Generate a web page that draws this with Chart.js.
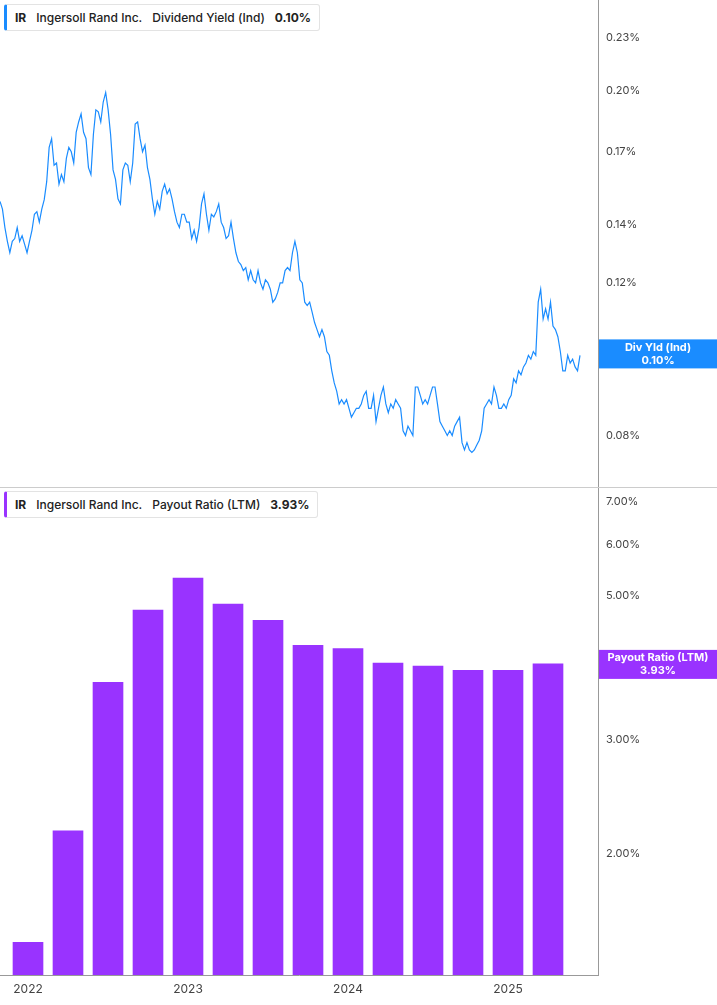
<!DOCTYPE html>
<html><head><meta charset="utf-8">
<script src="https://cdn.jsdelivr.net/npm/chart.js@4/dist/chart.umd.min.js"></script>
<style>
body{margin:0;background:#fff;font-family:Inter,"Noto Sans",sans-serif;}
#wrap{position:relative;width:717px;height:1005px;overflow:hidden;}
.c{position:absolute;left:0;}
.leg{position:absolute;left:4px;height:25px;border:1px solid #e3e3e3;border-left:3px solid;border-radius:3px;background:#fff;font-size:12px;line-height:25px;color:#222;padding:0 8px;white-space:nowrap;}
.leg b{font-weight:700;margin-right:10px;}
.leg span{margin-right:10px;font-weight:500}
</style></head><body>
<div id="wrap">
<div class="c" style="top:-10px;width:717px;height:508px"><canvas id="top"></canvas></div>
<div class="c" style="top:478px;width:717px;height:527px"><canvas id="bot"></canvas></div>
<div style="position:absolute;left:0;top:487px;width:717px;height:1px;background:#ccc"></div>
<div class="leg" style="top:4px;border-left-color:#1a8cff"><b>IR</b><span>Ingersoll Rand Inc.</span><span>Dividend Yield (Ind)</span><b style="margin-right:0">0.10%</b></div>
<div class="leg" style="top:491px;border-left-color:#9933ff"><b>IR</b><span>Ingersoll Rand Inc.</span><span>Payout Ratio (LTM)</span><b style="margin-right:0">3.93%</b></div>
</div>
<script>
const yieldStart = 2021.825, yieldEnd = 2025.45;
const dividendYield = [0.149,0.146,0.139,0.134,0.130,0.134,0.135,0.139,0.134,0.136,0.133,0.130,0.134,0.138,0.144,0.145,0.141,0.146,0.1497,0.157,0.172,0.176,0.164,0.165,0.156,0.160,0.157,0.167,0.172,0.170,0.165,0.179,0.184,0.188,0.179,0.176,0.163,0.160,0.178,0.190,0.189,0.184,0.194,0.199,0.190,0.178,0.162,0.158,0.150,0.148,0.162,0.165,0.164,0.157,0.165,0.183,0.184,0.176,0.170,0.173,0.163,0.158,0.150,0.144,0.149,0.146,0.153,0.156,0.152,0.154,0.150,0.145,0.141,0.139,0.144,0.144,0.141,0.141,0.135,0.138,0.134,0.139,0.148,0.152,0.144,0.138,0.144,0.143,0.145,0.148,0.141,0.139,0.135,0.136,0.141,0.135,0.130,0.127,0.126,0.124,0.125,0.121,0.124,0.121,0.120,0.124,0.120,0.118,0.121,0.120,0.118,0.114,0.115,0.117,0.120,0.120,0.124,0.125,0.124,0.130,0.134,0.130,0.121,0.120,0.114,0.113,0.114,0.111,0.108,0.106,0.104,0.106,0.104,0.100,0.099,0.095,0.092,0.090,0.087,0.088,0.087,0.088,0.086,0.084,0.085,0.086,0.086,0.087,0.089,0.090,0.086,0.086,0.089,0.083,0.086,0.089,0.091,0.087,0.085,0.087,0.086,0.088,0.087,0.086,0.081,0.080,0.082,0.081,0.080,0.091,0.091,0.089,0.087,0.088,0.087,0.089,0.091,0.091,0.087,0.083,0.082,0.081,0.080,0.081,0.080,0.082,0.083,0.084,0.0785,0.077,0.0785,0.077,0.0765,0.077,0.078,0.079,0.081,0.086,0.087,0.088,0.087,0.091,0.089,0.086,0.086,0.087,0.086,0.088,0.089,0.093,0.092,0.095,0.094,0.096,0.097,0.099,0.098,0.100,0.099,0.114,0.118,0.109,0.112,0.109,0.114,0.107,0.106,0.104,0.100,0.095,0.095,0.099,0.097,0.098,0.096,0.095,0.099];
const yieldTicks = [0.08,0.10,0.12,0.14,0.17,0.20,0.23];
const payoutDates = [2022.0,2022.25,2022.5,2022.75,2023.0,2023.25,2023.5,2023.75,2024.0,2024.25,2024.5,2024.75,2025.0,2025.25];
const payoutRatio = [1.46,2.17,3.68,4.76,5.33,4.86,4.59,4.20,4.15,3.94,3.90,3.84,3.84,3.93];
const payoutTicks = [2,3,5,6,7];
const yearTicks = [2022,2023,2024,2025];

const XMIN = 2021.825, XMAX = 2021.825 + 598/160;
const n = dividendYield.length;
const linePts = dividendYield.map((v,i)=>({x: yieldStart + (yieldEnd-yieldStart)*i/(n-1), y: v}));
const barPts = payoutRatio.map((v,i)=>({x: payoutDates[i], y: v}));
const FONT = {family:'Inter, "Noto Sans", sans-serif', size:11};

function boxPlugin(text1, text2, color, value){
  return {id:'box'+text1.replace(/\W/g,''), afterDraw(c){
    const ctx=c.ctx, ys=c.scales.y, yc=ys.getPixelForValue(value);
    ctx.save(); ctx.fillStyle=color; ctx.fillRect(599, yc-14, 118, 29);
    ctx.fillStyle='#fff'; ctx.font='bold 11px Inter, "Noto Sans", sans-serif'; ctx.textAlign='center'; ctx.textBaseline='middle';
    ctx.fillText(text1, 658, yc-6); ctx.fillText(text2, 658, yc+7); ctx.restore();
  }};
}
Chart.defaults.animation=false;
new Chart(document.getElementById('top'),{
  type:'line',
  data:{datasets:[{data:linePts,borderColor:'#1a8cff',borderWidth:1.2,pointRadius:0,tension:0}]},
  options:{responsive:true,maintainAspectRatio:false,layout:{padding:0},
    plugins:{legend:{display:false},tooltip:{enabled:false}},
    scales:{
      x:{type:'linear',min:XMIN,max:XMAX,display:false,offset:false},
      y:{type:'logarithmic',position:'right',min:0.0697,max:0.254,
        afterBuildTicks(s){s.ticks=yieldTicks.map(v=>({value:v}));},
        afterFit(s){s.width=119;},
        grid:{display:false,drawTicks:true,tickLength:4,tickColor:'#999'},
        border:{color:'#999'},
        ticks:{color:'#444',font:FONT,padding:4,callback:v=>v.toFixed(2)+'%'}}
    }},
  plugins:[boxPlugin('Div Yld (Ind)','0.10%','#1a8cff',0.0995)]
});
new Chart(document.getElementById('bot'),{
  type:'bar',
  data:{datasets:[{data:barPts,backgroundColor:'#9933ff',barThickness:30}]},
  options:{responsive:true,maintainAspectRatio:false,layout:{padding:0},
    plugins:{legend:{display:false},tooltip:{enabled:false}},
    scales:{
      x:{type:'linear',min:XMIN,max:XMAX,offset:false,
        afterBuildTicks(s){s.ticks=yearTicks.map(v=>({value:v}));},
        afterFit(s){s.height=30;},
        grid:{display:false,drawTicks:true,tickLength:5,tickColor:'#999'},
        border:{color:'#999'},
        ticks:{color:'#444',font:{...FONT,size:12},padding:2,maxRotation:0,callback:v=>String(v)}},
      y:{type:'logarithmic',position:'right',min:1.308,max:7.33,
        afterBuildTicks(s){s.ticks=payoutTicks.map(v=>({value:v}));},
        afterFit(s){s.width=119;},
        grid:{display:false,drawTicks:true,tickLength:4,tickColor:'#999'},
        border:{color:'#999'},
        ticks:{color:'#444',font:FONT,padding:4,callback:v=>v.toFixed(2)+'%'}}
    }},
  plugins:[boxPlugin('Payout Ratio (LTM)','3.93%','#9933ff',3.93)]
});
</script></body></html>
